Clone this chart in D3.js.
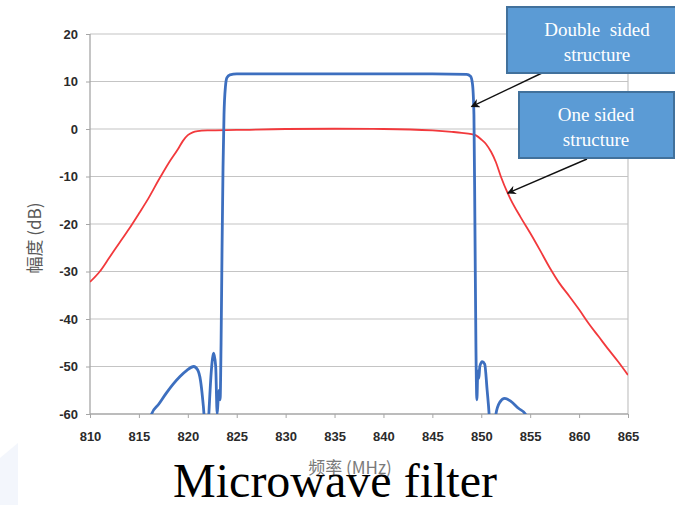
<!DOCTYPE html>
<html>
<head>
<meta charset="utf-8">
<script src="https://cdn.jsdelivr.net/npm/d3@7"></script>
<style>
  body { margin: 0; background: #fff; }
  svg { display: block; }
</style>
</head>
<body>
<div id="chart"></div>
<script>
// x ticks (MHz) and y ticks (dB)
const xTicks = [810, 815, 820, 825, 830, 835, 840, 845, 850, 855, 860, 865];
const yTicks = [-60, -50, -40, -30, -20, -10, 0, 10, 20];

// one sided structure (red)
const oneSidedFreq = [810, 811, 812, 813, 814, 815, 816, 817, 818, 819, 819.5, 820, 820.5, 821, 822, 825, 830, 835, 840, 845, 847, 848, 849, 849.5, 850, 850.5, 851, 851.5, 852, 852.7, 853, 854, 855, 856, 857, 858, 859, 860, 861, 862, 863, 864, 865];
const oneSidedDb = [-32.2, -30, -27, -24, -21, -17.8, -14.5, -10.8, -7.3, -4.2, -2.5, -1.3, -0.7, -0.45, -0.3, -0.2, 0, 0.05, 0, -0.3, -0.6, -0.8, -1.1, -1.4, -2.2, -3.2, -4.8, -7, -10, -13.5, -14.8, -18.5, -21.9, -25.5, -29.2, -32.5, -35.2, -38, -41, -43.7, -46.4, -49, -51.8];

// double sided structure (blue); values under -60 fall outside the plot
const doubleSidedFreq = [816, 816.3, 817, 817.8, 818.5, 819.2, 819.9, 820.6, 821.0, 821.3, 821.5, 821.65, 821.8, 822.0, 822.15, 822.4, 822.65, 822.85, 823.0, 823.1, 823.2, 823.3, 823.4, 823.5, 823.6, 823.7, 823.85, 824.0, 824.3, 825, 830, 835, 840, 845, 848.5, 848.9, 849.1, 849.25, 849.35, 849.45, 849.55, 849.65, 849.75, 849.85, 850.1, 850.35, 850.6, 850.8, 850.95, 851.3, 851.5, 851.9, 852.4, 853, 853.8, 854.5, 854.8];
const doubleSidedDb = [-63, -60, -58, -55.6, -53.7, -52.1, -50.8, -50, -50.7, -53, -56.5, -60, -66, -66, -60, -51, -47.2, -50, -60, -57, -55, -57, -45, -25, -8, 3, 9, 10.8, 11.4, 11.6, 11.6, 11.6, 11.6, 11.6, 11.5, 11.1, 9.5, 3, -20, -45, -57, -51, -52.5, -50, -49, -49.5, -55, -60, -66, -66, -60, -57.5, -56.7, -57.3, -58.8, -60, -62];

const width = 675, height = 505;

const svg = d3.select("#chart").append("svg")
    .attr("width", width)
    .attr("height", height);

// faint background shape bottom-left
svg.append("path")
    .attr("d", "M0,505 L0,458 L18,443 L18,505 Z")
    .attr("fill", "#f3f6fc");

const x = d3.scaleLinear().domain([810, 865]).range([90, 628]);
const y = d3.scaleLinear().domain([-60, 20]).range([414, 34]);

// gridlines
svg.append("g")
    .selectAll("line")
    .data(yTicks.filter(d => d > -60))
    .join("line")
    .attr("x1", x(810))
    .attr("x2", x(865))
    .attr("y1", d => y(d))
    .attr("y2", d => y(d))
    .attr("stroke", "#c4c4c4")
    .attr("stroke-width", 1.2);

// right border
svg.append("line")
    .attr("x1", x(865)).attr("x2", x(865))
    .attr("y1", y(20)).attr("y2", y(-60))
    .attr("stroke", "#c4c4c4")
    .attr("stroke-width", 1.2);

function styleAxis(g) {
    g.select(".domain").remove();
    g.selectAll(".tick line").attr("stroke", "#a6a6a6");
    g.selectAll(".tick text")
        .style("font-family", "Arial, 'Liberation Sans', sans-serif")
        .style("font-weight", "bold")
        .style("font-size", "13px")
        .style("fill", "#2b2b2b");
}

// axes
svg.append("g")
    .attr("transform", `translate(${x(810)},0)`)
    .call(d3.axisLeft(y).tickValues(yTicks).tickSize(4).tickPadding(8).tickFormat(d => String(d)))
    .call(styleAxis);

svg.append("g")
    .attr("transform", `translate(0,${y(-60)})`)
    .call(d3.axisBottom(x).tickValues(xTicks).tickSize(4).tickPadding(14).tickFormat(d => String(d)))
    .call(styleAxis);

svg.append("line")
    .attr("x1", x(810)).attr("x2", x(810))
    .attr("y1", y(20)).attr("y2", y(-60))
    .attr("stroke", "#a6a6a6").attr("stroke-width", 1.3);
svg.append("line")
    .attr("x1", x(810)).attr("x2", x(865))
    .attr("y1", y(-60)).attr("y2", y(-60))
    .attr("stroke", "#a6a6a6").attr("stroke-width", 1.3);

// clip for curves
svg.append("clipPath").attr("id", "plot-clip")
    .append("rect")
    .attr("x", x(810))
    .attr("y", y(20) - 5)
    .attr("width", x(865) - x(810))
    .attr("height", y(-60) - y(20) + 5);

const line = d3.line()
    .x(d => x(d[0]))
    .y(d => y(d[1]))
    .curve(d3.curveMonotoneX);

const plot = svg.append("g").attr("clip-path", "url(#plot-clip)");

plot.append("path")
    .datum(oneSidedFreq.map((f, i) => [f, oneSidedDb[i]]))
    .attr("fill", "none")
    .attr("stroke", "#f2393c")
    .attr("stroke-width", 1.8)
    .attr("d", line);

plot.append("path")
    .datum(doubleSidedFreq.map((f, i) => [f, doubleSidedDb[i]]))
    .attr("fill", "none")
    .attr("stroke", "#3d6fbf")
    .attr("stroke-width", 2.8)
    .attr("stroke-linejoin", "round")
    .attr("d", line);

// axis titles
svg.append("text")
    .attr("transform", "translate(41,238) rotate(-90)")
    .attr("text-anchor", "middle")
    .style("font-family", "'Noto Sans CJK SC', sans-serif")
    .style("font-size", "17px")
    .style("fill", "#595959")
    .text("幅度 (dB)");

svg.append("text")
    .attr("x", 350)
    .attr("y", 474)
    .attr("text-anchor", "middle")
    .style("font-family", "'Noto Sans CJK SC', sans-serif")
    .style("font-size", "17px")
    .style("fill", "#7a7a7a")
    .text("频率 (MHz)");

svg.append("text")
    .attr("x", 335)
    .attr("y", 497)
    .attr("text-anchor", "middle")
    .style("font-family", "'Liberation Serif', 'Times New Roman', serif")
    .style("font-size", "48px")
    .style("fill", "#000")
    .text("Microwave filter");

// annotations
svg.append("defs").append("marker")
    .attr("id", "arrow")
    .attr("viewBox", "0 0 10 10")
    .attr("refX", 9).attr("refY", 5)
    .attr("markerWidth", 9).attr("markerHeight", 9)
    .attr("markerUnits", "userSpaceOnUse")
    .attr("orient", "auto")
    .append("path")
    .attr("d", "M0,0 L10,5 L0,10 L3,5 Z")
    .attr("fill", "#111");

const notes = [
    {lines: ["Double  sided", "structure"], box: [507, 7, 180, 66], textX: 597, from: [542, 73], to: [x(849.0), y(4.7)]},
    {lines: ["One sided", "structure"], box: [519, 92, 155, 66], textX: 596, from: [587, 159], to: [x(852.7), y(-13.5)]}
];

notes.forEach(n => {
    svg.append("line")
        .attr("x1", n.from[0]).attr("y1", n.from[1])
        .attr("x2", n.to[0]).attr("y2", n.to[1])
        .attr("stroke", "#111")
        .attr("stroke-width", 1.4)
        .attr("marker-end", "url(#arrow)");
    svg.append("rect")
        .attr("x", n.box[0]).attr("y", n.box[1])
        .attr("width", n.box[2]).attr("height", n.box[3])
        .attr("fill", "#5b9bd5")
        .attr("stroke", "#41719c")
        .attr("stroke-width", 2);
    n.lines.forEach((t, i) => {
        svg.append("text")
            .attr("x", n.textX)
            .attr("y", n.box[1] + 29 + i * 25)
            .attr("text-anchor", "middle")
            .style("font-family", "'Liberation Serif', 'Times New Roman', serif")
            .style("font-size", "19px")
            .style("fill", "#fff")
            .style("white-space", "pre")
            .text(t);
    });
});
</script>
</body>
</html>
